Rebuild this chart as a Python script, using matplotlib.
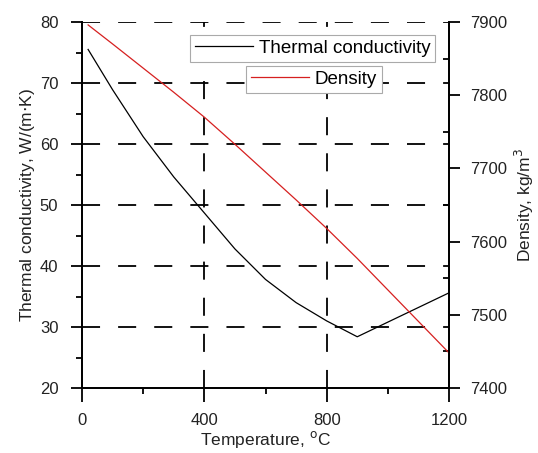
import matplotlib
matplotlib.use("Agg")
import matplotlib.pyplot as plt
from matplotlib.ticker import MultipleLocator

plt.rcParams['font.family'] = ['Liberation Sans', 'DejaVu Sans']

# temperature, degC
temperature = [20, 100, 200, 300, 400, 500, 600, 700, 800, 900, 1000, 1100, 1200]
# thermal conductivity, W/(m K)
conductivity = [75.5, 68.9, 61.2, 54.6, 48.7, 42.8, 37.8, 34.0, 31.0, 28.4, 30.8, 33.2, 35.6]
# density, kg/m3
density = [7896, 7870, 7837, 7804, 7770, 7733, 7695, 7657, 7618, 7577, 7534, 7491, 7448]

fig = plt.figure(figsize=(5.38, 4.53), dpi=100)
ax = fig.add_axes([82 / 538, 1 - 388 / 453, 367 / 538, 366 / 453])
ax2 = ax.twinx()

tick_col = "#222222"
lw_axis = 1.3
fs_tick = 12
fs_lab = 12.5

l1, = ax.plot(temperature, conductivity, color="black", lw=0.9)
l2, = ax2.plot(temperature, density, color="#d62020", lw=0.9)

ax.set_xlim(0, 1200)
ax.set_ylim(20, 80)
ax2.set_ylim(7400, 7900)

# dashed grid at the major ticks (not on the frame)
for yv in [30, 40, 50, 60, 70, 80]:
    ax.axhline(yv, color="black", lw=1.3, linestyle=(0, (10, 10)), zorder=0.5)
for xv in [400, 800]:
    ax.axvline(xv, color="black", lw=1.3, linestyle=(0, (10, 10)), zorder=0.5)

ax.xaxis.set_major_locator(MultipleLocator(400))
ax.xaxis.set_minor_locator(MultipleLocator(200))
ax.yaxis.set_major_locator(MultipleLocator(10))
ax.yaxis.set_minor_locator(MultipleLocator(5))
ax2.yaxis.set_major_locator(MultipleLocator(100))
ax2.yaxis.set_minor_locator(MultipleLocator(50))

for a in (ax, ax2):
    a.spines['top'].set_visible(False)
    for s in a.spines.values():
        s.set_linewidth(lw_axis)

ax.tick_params(axis='x', which='major', direction='out', length=10, width=lw_axis,
               labelsize=fs_tick, labelcolor=tick_col, pad=8)
ax.tick_params(axis='x', which='minor', direction='out', length=4, width=lw_axis)
ax.tick_params(axis='y', which='major', direction='out', length=8, width=lw_axis,
               labelsize=fs_tick, labelcolor=tick_col, pad=9)
ax.tick_params(axis='y', which='minor', direction='out', length=4, width=lw_axis)
ax2.tick_params(axis='y', which='major', direction='out', length=8, width=lw_axis,
                labelsize=fs_tick, labelcolor=tick_col, pad=7)
ax2.tick_params(axis='y', which='minor', direction='in', length=4, width=lw_axis)

ax.set_xlabel("Temperature, $^{\\mathrm{o}}$C", fontsize=fs_lab, color=tick_col, labelpad=1)
ax.set_ylabel("Thermal conductivity, W/(m$\\cdot$K)", fontsize=fs_lab, color=tick_col, labelpad=2)
ax2.set_ylabel("Density, kg/m$^3$", fontsize=fs_lab, color=tick_col, labelpad=4)

leg_kw = dict(fontsize=13.5, frameon=True, fancybox=False, framealpha=1,
              edgecolor="#aaaaaa", borderaxespad=0, handlelength=3.1,
              handletextpad=0.33, borderpad=0.25,
              bbox_transform=fig.transFigure)
leg1 = ax2.legend([l1], ["Thermal conductivity"], loc="upper left",
                  bbox_to_anchor=(190 / 538, 1 - 35 / 453), **leg_kw)
leg1.get_frame().set_linewidth(0.8)
ax2.add_artist(leg1)
leg2 = ax2.legend([l2], ["Density"], loc="upper left",
                  bbox_to_anchor=(246 / 538, 1 - 66 / 453), **leg_kw)
leg2.get_frame().set_linewidth(0.8)

fig.savefig("out.png", dpi=100)
